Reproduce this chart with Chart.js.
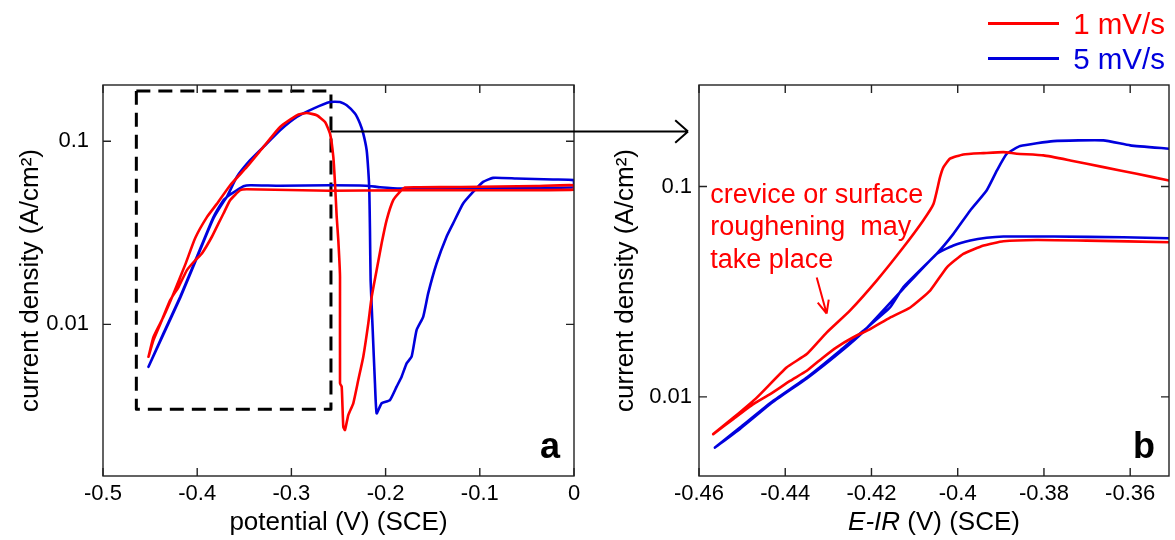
<!DOCTYPE html>
<html>
<head>
<meta charset="utf-8">
<script src="https://cdn.jsdelivr.net/npm/chart.js@4.4.1/dist/chart.umd.min.js"></script>
<style>
  html, body { margin: 0; padding: 0; background: #fff; }
  #wrap { position: relative; width: 1175px; height: 540px; overflow: hidden; }
  #wrap canvas { position: absolute; left: 0; top: 0; }
  #legend { position: absolute; right: 10px; top: 6px; font-family: "Liberation Sans", Arial, sans-serif; font-size: 29.5px; }
  #legend .row { display: flex; align-items: center; justify-content: flex-end; height: 35px; }
  #legend .swatch { width: 71px; height: 3px; margin-right: 14px; }
</style>
</head>
<body>
<div id="wrap">
  <canvas id="panelA" width="1175" height="540"></canvas>
  <canvas id="panelB" width="1175" height="540"></canvas>
  <div id="legend"></div>
</div>
<script>
// ---------- data ----------
const seriesLabels = ['1 mV/s', '5 mV/s'];
const seriesColors = ['#ff0000', '#0000dd'];

// Panel a: potential (V vs SCE) vs current density (A/cm²)
const potA_1mV = [-0.4517, -0.4464, -0.4358, -0.4251, -0.4127, -0.4021, -0.3897, -0.3791, -0.3650, -0.3473,
  -0.3297, -0.3120, -0.2943, -0.2837, -0.2731, -0.2643, -0.2590, -0.2555, -0.2537, -0.2519,
  -0.2502, -0.2484, -0.2484, -0.2466, -0.2449, -0.2431, -0.2396, -0.2343, -0.2290, -0.2237,
  -0.2184, -0.2148, -0.2095, -0.2042, -0.1989, -0.1919, -0.1848, -0.1795, -0.1636, -0.1200,
  -0.0800, -0.0400, 0.0000,
  0.0000, -0.1000, -0.1848, -0.2590, -0.3473, -0.3544, -0.3650, -0.3721, -0.3774, -0.3844,
  -0.3950, -0.4021, -0.4109, -0.4198, -0.4287, -0.4374, -0.4464, -0.4517];
const curA_1mV = [0.00666, 0.00855, 0.0110, 0.01476, 0.0212, 0.0296, 0.0385, 0.0455, 0.0575, 0.0724,
  0.0931, 0.1197, 0.1386, 0.1427, 0.1386, 0.1274, 0.110, 0.0821, 0.0588, 0.0386,
  0.0288, 0.0182, 0.00477, 0.00457, 0.00276, 0.00265, 0.0032, 0.00371, 0.00497, 0.00666,
  0.0101, 0.0141, 0.0198, 0.0277, 0.0371, 0.0477, 0.0529, 0.0559, 0.0561, 0.0563,
  0.0566, 0.0570, 0.0575,
  0.0544, 0.0540, 0.0540, 0.0537, 0.0547, 0.0540, 0.0477, 0.0403, 0.0356, 0.0301,
  0.0244, 0.0224, 0.0198, 0.0160, 0.01357, 0.01056, 0.00821, 0.00666];

const potA_5mV = [-0.4517, -0.4358, -0.4180, -0.4003, -0.3827, -0.3721, -0.3685, -0.3579, -0.3438, -0.3297,
  -0.3120, -0.2943, -0.2767, -0.2590, -0.2484, -0.2413, -0.2325, -0.2272, -0.2237, -0.2201,
  -0.2184, -0.2173, -0.2166, -0.2159, -0.2137, -0.2113, -0.2095, -0.2042, -0.1954, -0.1883,
  -0.1830, -0.1777, -0.1724, -0.1671, -0.1601, -0.1548, -0.1459, -0.1353, -0.1283, -0.1177,
  -0.1071, -0.0965, -0.0859, -0.0611, -0.0223, 0.0000,
  0.0000, -0.1000, -0.1848, -0.2060, -0.2209, -0.2590, -0.3120, -0.3438, -0.3509, -0.3579,
  -0.3685, -0.3827, -0.4003, -0.4180, -0.4358, -0.4517];
const curA_5mV = [0.00587, 0.00893, 0.01414, 0.0234, 0.0386, 0.0477, 0.0497, 0.0639, 0.0788, 0.0931,
  0.1148, 0.1357, 0.1508, 0.1638, 0.1638, 0.1572, 0.1416, 0.1249, 0.110, 0.0893,
  0.0695, 0.0540, 0.0327, 0.01745, 0.00931, 0.00477, 0.00327, 0.00371, 0.00386, 0.00457,
  0.00518, 0.00613, 0.00666, 0.00931, 0.0110, 0.01476, 0.0215, 0.0301, 0.0356, 0.0457,
  0.0529, 0.0600, 0.0631, 0.0626, 0.0618, 0.0613,
  0.0561, 0.0558, 0.0551, 0.0561, 0.0572, 0.0575, 0.0572, 0.0575, 0.0568, 0.0540,
  0.0497, 0.0380, 0.0231, 0.0140, 0.00885, 0.00587];

// Panel b: IR-corrected potential, forward and reverse sweeps
const potB_1mV_fwd = [-0.4567, -0.4520, -0.4466, -0.4397, -0.4350, -0.4304, -0.4250, -0.4188, -0.4126, -0.4080,
  -0.4056, -0.4041, -0.4033, -0.4018, -0.3987, -0.3940, -0.3894, -0.3863, -0.3801, -0.3739,
  -0.3662, -0.3585, -0.3510];
const curB_1mV_fwd = [0.00665, 0.00797, 0.00992, 0.01379, 0.01597, 0.0202, 0.0257, 0.0357, 0.0514, 0.0689,
  0.0827, 0.1107, 0.1236, 0.1355, 0.1420, 0.1440, 0.1457, 0.1431, 0.1405, 0.1330,
  0.1236, 0.1149, 0.1068];
const potB_1mV_rev = [-0.3510, -0.3701, -0.3817, -0.3894, -0.3940, -0.3987, -0.4025, -0.4064, -0.4110, -0.4157,
  -0.4203, -0.4242, -0.4281, -0.4312, -0.4350, -0.4389, -0.4435, -0.4474, -0.4520, -0.4567];
const curB_1mV_rev = [0.0543, 0.0553, 0.0557, 0.0549, 0.0524, 0.0478, 0.0413, 0.0320, 0.0266, 0.0238,
  0.0210, 0.0192, 0.0172, 0.0154, 0.0133, 0.0119, 0.0103, 0.00923, 0.00786, 0.00665];

const potB_5mV_fwd = [-0.4563, -0.4505, -0.4428, -0.4350, -0.4273, -0.4219, -0.4157, -0.4126, -0.4049, -0.4010,
  -0.3971, -0.3933, -0.3909, -0.3886, -0.3855, -0.3778, -0.3662, -0.3600, -0.3510];
const curB_5mV_fwd = [0.00574, 0.00714, 0.00957, 0.01235, 0.01656, 0.0206, 0.0266, 0.0332, 0.0478, 0.0595,
  0.0769, 0.0957, 0.1192, 0.1431, 0.1556, 0.1643, 0.1656, 0.1568, 0.1512];
const potB_5mV_rev = [-0.3510, -0.3616, -0.3778, -0.3894, -0.3933, -0.3971, -0.4010, -0.4049, -0.4126, -0.4219,
  -0.4273, -0.4350, -0.4428, -0.4505, -0.4563];
const curB_5mV_rev = [0.0567, 0.0574, 0.0578, 0.0578, 0.0570, 0.0553, 0.0524, 0.0478, 0.0327, 0.0204,
  0.0163, 0.01224, 0.00947, 0.00704, 0.00574];

// Axis ticks
const xTicksA = [-0.5, -0.4, -0.3, -0.2, -0.1, 0];
const xLabelsA = ['-0.5', '-0.4', '-0.3', '-0.2', '-0.1', '0'];
const xTicksB = [-0.46, -0.44, -0.42, -0.40, -0.38, -0.36];
const xLabelsB = ['-0.46', '-0.44', '-0.42', '-0.4', '-0.38', '-0.36'];
const yTicks = [0.01, 0.1];
const yLabels = ['0.01', '0.1'];

// Region of panel a that panel b enlarges (potential, current density)
const zoomBoxX = [-0.4646, -0.2580, -0.2580, -0.4646, -0.4646];
const zoomBoxY = [0.188, 0.188, 0.00344, 0.00344, 0.188];
const linkArrowY = 0.113;

// Note in panel b
const noteLines = ['crevice or surface', 'roughening  may', 'take place'];
const noteAt = [-0.4574, 0.0906];
const noteArrowFrom = [-0.4327, 0.0369];
const noteArrowTo = [-0.4304, 0.0249];

// ---------- helpers ----------
const FONT = '"Liberation Sans", Arial, sans-serif';
Chart.defaults.font.family = FONT;
Chart.defaults.color = '#000';

function pts(xs, ys) { return xs.map((v, i) => ({ x: v, y: ys[i] })); }
function sweeps(fx, fy, rx, ry) { return pts(fx, fy).concat([{ x: null, y: null }], pts(rx, ry)); }

function curve(label, color, data) {
  return { label, data, borderColor: color, backgroundColor: color, borderWidth: 2.6,
    pointRadius: 0, showLine: true, tension: 0.15, fill: false, spanGaps: false,
    borderJoinStyle: 'round', borderCapStyle: 'round' };
}

function arrowHead(ctx, x0, y0, x1, y1, len, ang) {
  const a = Math.atan2(y1 - y0, x1 - x0);
  ctx.moveTo(x1, y1);
  ctx.lineTo(x1 - len * Math.cos(a - ang), y1 - len * Math.sin(a - ang));
  ctx.moveTo(x1, y1);
  ctx.lineTo(x1 - len * Math.cos(a + ang), y1 - len * Math.sin(a + ang));
}

// Box frame with inward tick marks on all four sides
const framePlugin = {
  id: 'frame',
  afterDatasetsDraw(chart) {
    const { ctx, chartArea: a, scales: { x, y } } = chart;
    const L = 8;
    ctx.save();
    ctx.strokeStyle = '#222';
    ctx.lineWidth = 1.4;
    ctx.strokeRect(a.left, a.top, a.right - a.left, a.bottom - a.top);
    ctx.beginPath();
    x.ticks.forEach(t => {
      const p = x.getPixelForValue(t.value);
      ctx.moveTo(p, a.bottom); ctx.lineTo(p, a.bottom - L);
      ctx.moveTo(p, a.top); ctx.lineTo(p, a.top + L);
    });
    y.ticks.forEach(t => {
      const p = y.getPixelForValue(t.value);
      ctx.moveTo(a.left, p); ctx.lineTo(a.left + L, p);
      ctx.moveTo(a.right, p); ctx.lineTo(a.right - L, p);
    });
    ctx.stroke();
    ctx.restore();
  }
};

function panelLetter(letter) {
  return {
    id: 'letter' + letter,
    afterDraw(chart) {
      const { ctx, chartArea: a } = chart;
      ctx.save();
      ctx.font = 'bold 36px ' + FONT;
      ctx.fillStyle = '#000';
      ctx.textAlign = 'right';
      ctx.textBaseline = 'alphabetic';
      ctx.fillText(letter, a.right - 14, a.bottom - 18);
      ctx.restore();
    }
  };
}

function xAxis(min, max, ticks, labels, titleOn) {
  return {
    type: 'linear', min, max,
    afterBuildTicks: s => { s.ticks = ticks.map(v => ({ value: v })); },
    afterFit: s => { s.height = 64; },
    grid: { display: false, drawTicks: false },
    border: { display: false },
    ticks: { font: { size: 22 }, color: '#000', padding: 5, maxRotation: 0, autoSkip: false,
      callback: (v, i) => labels[i] },
    title: { display: titleOn, text: 'potential (V) (SCE)', font: { size: 26 }, color: '#000',
      padding: { top: 0, bottom: 1.5 } }
  };
}

function yAxis(min, max, width, tickPad, titlePad) {
  return {
    type: 'logarithmic', min, max,
    afterBuildTicks: s => { s.ticks = yTicks.map(v => ({ value: v })); },
    afterFit: s => { s.width = width; },
    grid: { display: false, drawTicks: false },
    border: { display: false },
    ticks: { font: { size: 22 }, color: '#000', padding: tickPad, autoSkip: false,
      callback: (v, i) => yLabels[i] },
    title: { display: true, text: 'current density (A/cm²)', font: { size: 26 }, color: '#000',
      padding: { top: titlePad, bottom: 0 } }
  };
}

const common = {
  responsive: false,
  animation: false,
  events: [],
  plugins: { legend: { display: false }, tooltip: { enabled: false } }
};

// ---------- panel a ----------
const chartA = new Chart(document.getElementById('panelA'), {
  type: 'scatter',
  data: {
    datasets: [
      curve(seriesLabels[0], seriesColors[0], pts(potA_1mV, curA_1mV)),
      curve(seriesLabels[1], seriesColors[1], pts(potA_5mV, curA_5mV)),
      { label: 'zoom', data: pts(zoomBoxX, zoomBoxY), showLine: true, borderColor: '#000',
        borderWidth: 3, borderDash: [14, 8], pointRadius: 0, tension: 0,
        borderJoinStyle: 'round', borderCapStyle: 'butt', fill: false }
    ]
  },
  options: Object.assign({}, common, {
    layout: { padding: { left: 0, top: 85, right: 601, bottom: 0 } },
    scales: {
      x: xAxis(-0.5, 0, xTicksA, xLabelsA, true),
      y: yAxis(0.001487, 0.2028, 103, 14, 15)
    }
  }),
  plugins: [framePlugin, panelLetter('a')]
});

// ---------- panel b ----------
const panelBExtras = {
  id: 'panelBExtras',
  afterDraw(chart) {
    const { ctx, chartArea: a, scales: { x, y } } = chart;
    ctx.save();
    // x-axis title with italic E-IR
    const t1 = 'E-IR', t2 = ' (V) (SCE)';
    ctx.textBaseline = 'middle';
    ctx.fillStyle = '#000';
    ctx.font = 'italic 26px ' + FONT;
    const w1 = ctx.measureText(t1).width;
    ctx.font = '26px ' + FONT;
    const w2 = ctx.measureText(t2).width;
    const cx = (a.left + a.right) / 2, ty = 523;
    ctx.textAlign = 'left';
    ctx.font = 'italic 26px ' + FONT;
    ctx.fillText(t1, cx - (w1 + w2) / 2, ty);
    ctx.font = '26px ' + FONT;
    ctx.fillText(t2, cx - (w1 + w2) / 2 + w1, ty);

    // red note with arrow
    ctx.fillStyle = seriesColors[0];
    ctx.strokeStyle = seriesColors[0];
    ctx.font = '27px ' + FONT;
    const nx = x.getPixelForValue(noteAt[0]), ny = y.getPixelForValue(noteAt[1]);
    noteLines.forEach((s, i) => ctx.fillText(s, nx, ny + i * 32.5));
    const ax0 = x.getPixelForValue(noteArrowFrom[0]), ay0 = y.getPixelForValue(noteArrowFrom[1]);
    const ax1 = x.getPixelForValue(noteArrowTo[0]), ay1 = y.getPixelForValue(noteArrowTo[1]);
    ctx.lineWidth = 2;
    ctx.beginPath();
    ctx.moveTo(ax0, ay0); ctx.lineTo(ax1, ay1);
    arrowHead(ctx, ax0, ay0, ax1, ay1, 14, 0.42);
    ctx.stroke();

    // link arrow from the zoom region of panel a
    const sx = chartA.scales.x.getPixelForValue(zoomBoxX[1]);
    const sy = chartA.scales.y.getPixelForValue(linkArrowY);
    const ex = a.left - 11;
    ctx.strokeStyle = '#000';
    ctx.lineWidth = 2;
    ctx.beginPath();
    ctx.moveTo(sx, sy); ctx.lineTo(ex, sy);
    arrowHead(ctx, sx, sy, ex, sy, 17, 0.72);
    ctx.stroke();
    ctx.restore();
  }
};

const chartB = new Chart(document.getElementById('panelB'), {
  type: 'scatter',
  data: {
    datasets: [
      curve(seriesLabels[0], seriesColors[0], sweeps(potB_1mV_fwd, curB_1mV_fwd, potB_1mV_rev, curB_1mV_rev)),
      curve(seriesLabels[1], seriesColors[1], sweeps(potB_5mV_fwd, curB_5mV_fwd, potB_5mV_rev, curB_5mV_rev))
    ]
  },
  options: Object.assign({}, common, {
    layout: { padding: { left: 589, top: 85, right: 6, bottom: 0 } },
    scales: {
      x: xAxis(-0.46, -0.351, xTicksB, xLabelsB, false),
      y: yAxis(0.004205, 0.3036, 110, 7, 21)
    }
  }),
  plugins: [framePlugin, panelLetter('b'), panelBExtras]
});

// ---------- legend ----------
const legendBox = document.getElementById('legend');
chartB.data.datasets.forEach(ds => {
  const row = document.createElement('div');
  row.className = 'row';
  const sw = document.createElement('span');
  sw.className = 'swatch';
  sw.style.background = ds.borderColor;
  const tx = document.createElement('span');
  tx.textContent = ds.label;
  tx.style.color = ds.borderColor;
  row.appendChild(sw);
  row.appendChild(tx);
  legendBox.appendChild(row);
});
</script>
</body>
</html>
